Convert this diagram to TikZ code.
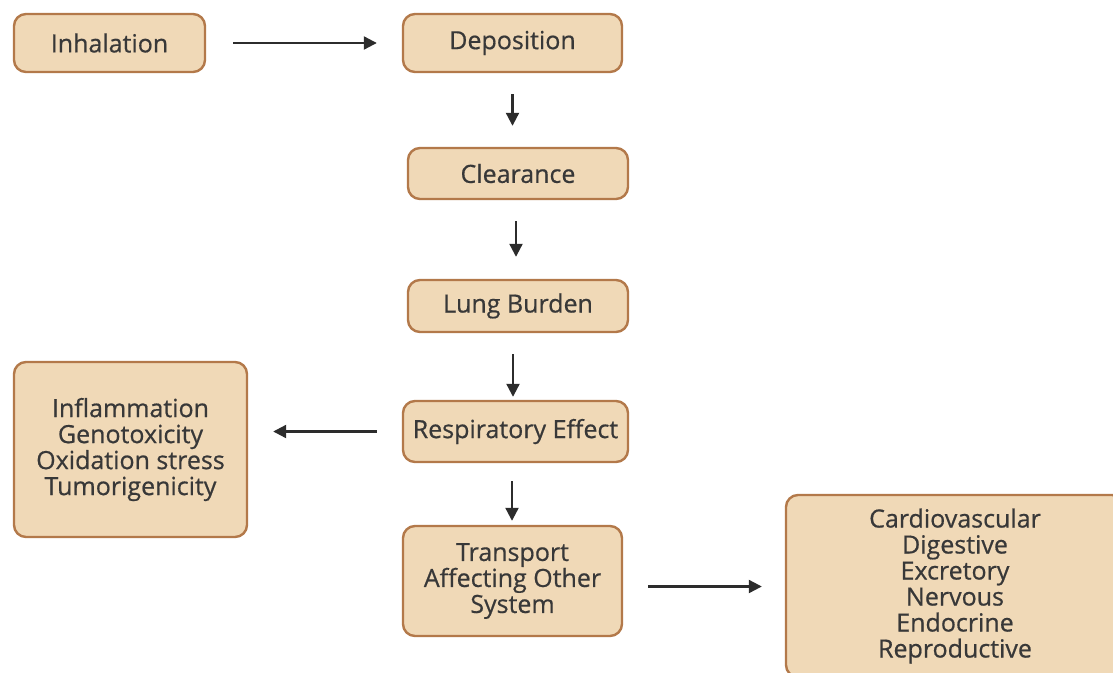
\documentclass[tikz,border=0pt]{standalone}
\usepackage{fontspec}
\setmainfont{Open Sans}
\newfontfamily\boxfont{Open Sans}[BoldFont={Open Sans},BoldFeatures={FakeBold=0.6}]
\usetikzlibrary{arrows.meta}
\definecolor{boxfill}{HTML}{F0D9B7}
\definecolor{boxdraw}{HTML}{B3794A}
\definecolor{txt}{HTML}{383838}
\definecolor{arr}{HTML}{2C2C2C}
\begin{document}
\begin{tikzpicture}[x=1pt,y=-1pt,
  stepbox/.style={draw=boxdraw,fill=boxfill,line width=2.4pt,rounded corners=12pt,
    text=txt,align=center,inner sep=0pt,
    font=\boxfont\bfseries\fontsize{25}{26}\selectfont},
  flow/.style={draw=arr,line width=2.2pt,-{Triangle[length=13pt,width=13pt]}}]
\useasboundingbox (0,0) rectangle (1113,672);
\clip (0,0) rectangle (1113,672);
\node[stepbox,minimum width=191pt,minimum height=58pt] (inh) at (109.5,43) {Inhalation};
\node[stepbox,minimum width=219pt,minimum height=58pt] (dep) at (512.5,43) {Deposition};
\node[stepbox,minimum width=220pt,minimum height=51pt] (clr) at (518,173.5) {Clearance};
\node[stepbox,minimum width=220pt,minimum height=52pt] (lung) at (518,306) {Lung Burden};
\node[stepbox,minimum width=225pt,minimum height=61pt] (resp) at (515.5,431.5) {Respiratory Effect};
\node[stepbox,minimum width=233pt,minimum height=175pt] (left) at (130.5,449.5) {Inflammation\\Genotoxicity\\Oxidation stress\\Tumorigenicity};
\node[stepbox,minimum width=219pt,minimum height=110pt] (trans) at (512.5,581) {Transport\\Affecting Other\\System};
\node[stepbox,minimum width=338pt,minimum height=182pt] (right) at (955,586) {Cardiovascular\\Digestive\\Excretory\\Nervous\\Endocrine\\Reproductive};
\draw[flow,shorten <=27pt,shorten >=25pt] (inh.east) -- (dep.west);
\draw[flow,shorten <=21pt,shorten >=21pt] (dep.south) -- (dep.south |- clr.north);
\draw[flow,shorten <=21pt,shorten >=22pt] ([xshift=-2pt]clr.south) -- ([xshift=-2pt]clr.south |- lung.north);
\draw[flow,shorten <=21pt,shorten >=3pt] ([xshift=-5pt]lung.south) -- ([xshift=-5pt]lung.south |- resp.north);
\draw[flow,shorten <=25pt,shorten >=25pt] (resp.west) -- (resp.west -| left.east);
\draw[flow,shorten <=18pt,shorten >=4pt] ([xshift=-3.5pt]resp.south) -- ([xshift=-3.5pt]resp.south |- trans.north);
\draw[flow,shorten <=25pt,shorten >=23pt] ([yshift=-5.5pt]trans.east) -- ([yshift=-5.5pt]trans.east -| right.west);
\end{tikzpicture}
\end{document}
